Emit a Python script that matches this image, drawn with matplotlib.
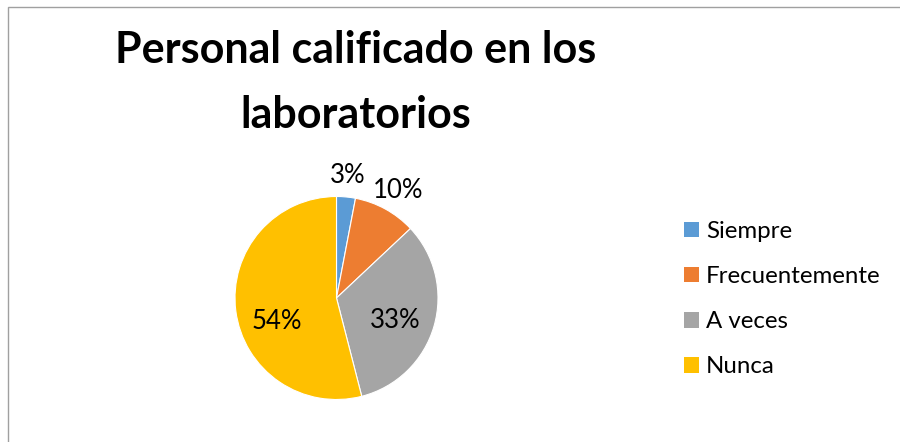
import matplotlib
matplotlib.use("Agg")
import matplotlib.pyplot as plt
from matplotlib.patches import Rectangle

title = "Personal calificado en los\nlaboratorios"
categories = ["Siempre", "Frecuentemente", "A veces", "Nunca"]
values = [3, 10, 33, 54]
colors = ["#5B9BD5", "#ED7D31", "#A5A5A5", "#FFC000"]

plt.rcParams['font.family'] = ['Lato', 'DejaVu Sans']

W, H = 900, 442
fig = plt.figure(figsize=(9, 4.42), dpi=100)
fig.patch.set_facecolor('white')

# chart area border (only left and top visible)
fig.patches.append(Rectangle((8 / W, -0.1), 1.2, 1 - 7 / H + 0.1,
                             transform=fig.transFigure, fill=False,
                             edgecolor='#A0A0A0', linewidth=1.0))

cx, cy, r = 336.5, 298, 101.5
ax = fig.add_axes([(cx - r) / W, (H - cy - r) / H, 2 * r / W, 2 * r / H])
wedges, texts, autotexts = ax.pie(
    values, colors=colors, startangle=90, counterclock=False,
    autopct=lambda p: f"{p:.0f}%", pctdistance=0.62,
    wedgeprops=dict(edgecolor='white', linewidth=0.8),
    textprops=dict(fontsize=18.5, color='#000000'))
ax.set_xlim(-1, 1)
ax.set_ylim(-1, 1)
ax.set_aspect('equal')

# Label positions (outside for small slices, like the original)
label_pos = [(0.113, 1.21), (0.606, 1.064), (0.576, -0.217), (-0.586, -0.236)]
for t, (x, y) in zip(autotexts, label_pos):
    t.set_position((x, y))
    t.set_ha('center')
    t.set_va('center')

fig.text(356 / W, 1 - 30 / H, title, ha='center', va='top',
         fontsize=31, fontweight='bold', linespacing=1.75)

leg = fig.legend(wedges, categories, loc='center left',
                 bbox_to_anchor=(674 / W, 1 - 299 / H), frameon=False,
                 fontsize=17.3, handlelength=0.64, handleheight=0.64,
                 handletextpad=0.3, labelspacing=1.0, borderaxespad=0)
for h in leg.legend_handles:
    h.set_edgecolor('none')

fig.savefig("out.png", dpi=100)
